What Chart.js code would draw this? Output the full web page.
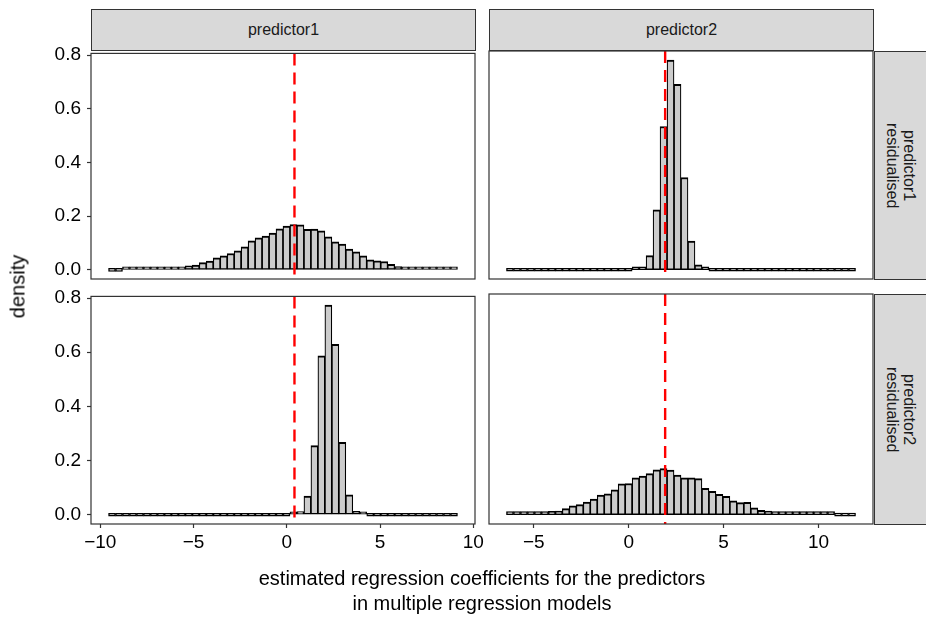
<!DOCTYPE html>
<html>
<head>
<meta charset="utf-8">
<script src="https://cdn.jsdelivr.net/npm/chart.js@4/dist/chart.umd.min.js"></script>
<style>
  body { margin: 0; background: #fff; }
  #wrap { position: relative; width: 926px; height: 621px; background: #fff; overflow: hidden;
          font-family: "Liberation Sans", Arial, sans-serif; color: #1a1a1a; }
  .cv { position: absolute; }
  .strip { position: absolute; box-sizing: border-box; background: #d9d9d9; border: 1px solid #333;
           display: flex; align-items: center; justify-content: center; font-size: 16px; color: #1a1a1a; }
  .strip.side { writing-mode: vertical-rl; text-align: center; line-height: 17px; border-right: none; }
  .lab { position: absolute; font-size: 20px; color: #000; text-align: center; }
</style>
</head>
<body>
<div id="wrap">
  <canvas id="tl" class="cv"></canvas>
  <canvas id="tr" class="cv"></canvas>
  <canvas id="bl" class="cv"></canvas>
  <canvas id="br" class="cv"></canvas>

  <div class="strip" style="left:91px;top:9px;width:385px;height:42px">predictor1</div>
  <div class="strip" style="left:489px;top:9px;width:385px;height:42px">predictor2</div>
  <div class="strip side" style="left:874px;top:51px;width:53px;height:229px">predictor1<br>residualised</div>
  <div class="strip side" style="left:874px;top:294px;width:53px;height:231px">predictor2<br>residualised</div>

  <div class="lab" style="left:-32px;top:275px;width:100px;transform:rotate(-90deg)">density</div>
  <div class="lab" style="left:182px;top:566px;width:600px;line-height:25px">estimated regression coefficients for the predictors<br>in multiple regression models</div>
</div>
<script>
// histogram densities, 50 bins per column
const densP1inP1res = [0.000, 0.000, 0.001, 0.001, 0.001, 0.001, 0.002, 0.003, 0.004, 0.007,
                       0.010, 0.015, 0.018, 0.027, 0.033, 0.045, 0.052, 0.061, 0.071, 0.086,
                       0.108, 0.119, 0.126, 0.137, 0.153, 0.163, 0.169, 0.168, 0.151, 0.152,
                       0.145, 0.123, 0.104, 0.096, 0.077, 0.067, 0.052, 0.037, 0.034, 0.031,
                       0.021, 0.012, 0.010, 0.008, 0.005, 0.004, 0.002, 0.002, 0.001, 0.001]
const densP1inP2res = [0, 0, 0, 0, 0, 0, 0, 0, 0, 0,
                       0, 0, 0, 0, 0, 0, 0, 0, 0, 0,
                       0, 0, 0, 0, 0, 0, 0.004, 0.012, 0.069, 0.255,
                       0.587, 0.774, 0.629, 0.267, 0.074, 0.013, 0.002, 0, 0, 0,
                       0, 0, 0, 0, 0, 0, 0, 0, 0, 0]
const densP2inP1res = [0, 0, 0, 0, 0, 0, 0, 0, 0, 0,
                       0, 0, 0, 0, 0, 0, 0, 0, 0.003, 0.009,
                       0.052, 0.221, 0.528, 0.773, 0.683, 0.340, 0.106, 0.018, 0.003, 0,
                       0, 0, 0, 0, 0, 0, 0, 0, 0, 0,
                       0, 0, 0, 0, 0, 0, 0, 0, 0, 0]
const densP2inP2res = [0.001, 0.001, 0.002, 0.002, 0.003, 0.005, 0.012, 0.013, 0.022, 0.032,
                       0.037, 0.046, 0.057, 0.072, 0.076, 0.091, 0.113, 0.114, 0.135, 0.141,
                       0.150, 0.164, 0.168, 0.163, 0.145, 0.135, 0.135, 0.132, 0.096, 0.085,
                       0.074, 0.067, 0.051, 0.044, 0.045, 0.025, 0.016, 0.013, 0.008, 0.005,
                       0.004, 0.003, 0.002, 0.002, 0.001, 0.001, 0.001, 0, 0, 0]

// bin layout of each column (shared by the two rows)
const p1BinStart = -9.56
const p1BinWidth = 0.3742
const p2BinStart = -6.44
const p2BinWidth = 0.3678

// true coefficients (dashed lines)
const p1True = 0.41
const p2True = 1.92

const yTicks = [0, 0.2, 0.4, 0.6, 0.8]
const p1Ticks = [-10, -5, 0, 5, 10]
const p2Ticks = [-5, 0, 5, 10]

const p1Range = [-10.50, 10.09]
const p2Range = [-7.36, 12.87]
const yRange = [-0.034, 0.806]

const FONT = '"Liberation Sans", Arial, sans-serif'

function binned(dens, start, width) {
    return dens.map((d, i) => ({ x: start + width * (i + 0.5), y: d }))
}

function minusFmt(v) {
    return v < 0 ? '\u2212' + Math.abs(v) : String(v)
}

const panelPlugin = {
    id: 'panel',
    afterDatasetsDraw(chart, args, opts) {
        const ctx = chart.ctx
        const a = chart.chartArea
        const px = chart.scales.x.getPixelForValue(opts.vline)
        ctx.save()
        ctx.beginPath()
        ctx.rect(a.left, a.top, a.right - a.left, a.bottom - a.top)
        ctx.clip()
        ctx.strokeStyle = '#ff0000'
        ctx.lineWidth = 2.4
        ctx.setLineDash([12, 7])
        ctx.beginPath()
        ctx.moveTo(px, a.top)
        ctx.lineTo(px, a.bottom)
        ctx.stroke()
        ctx.restore()

        ctx.save()
        ctx.strokeStyle = '#333333'
        ctx.lineWidth = 1.2
        ctx.strokeRect(a.left, a.top, a.right - a.left, a.bottom - a.top)
        ctx.restore()
    }
}

function makePanel(id, box, dens, bins, xRange, xTicks, vline, showX, showY) {
    const cv = document.getElementById(id)
    cv.width = box.w
    cv.height = box.h
    cv.style.left = box.x + 'px'
    cv.style.top = box.y + 'px'
    cv.style.width = box.w + 'px'
    cv.style.height = box.h + 'px'

    return new Chart(cv, {
        type: 'bar',
        data: {
            datasets: [{
                data: binned(dens, bins.start, bins.width),
                backgroundColor: '#cccccc',
                borderColor: '#000000',
                borderWidth: { top: 2, bottom: 1.5, left: 1.2, right: 1.2 },
                borderSkipped: false,
                barPercentage: 1,
                categoryPercentage: 1,
                minBarLength: 3
            }]
        },
        options: {
            responsive: false,
            animation: false,
            layout: { padding: box.pad },
            plugins: {
                legend: { display: false },
                tooltip: { enabled: false },
                panel: { vline: vline }
            },
            scales: {
                x: {
                    type: 'linear',
                    display: showX,
                    offset: false,
                    min: xRange[0],
                    max: xRange[1],
                    afterBuildTicks: s => { s.ticks = xTicks.map(v => ({ value: v })) },
                    afterFit: s => { if (showX) s.height = 55 },
                    grid: { drawOnChartArea: false, offset: false, tickLength: 4, tickColor: '#333', tickWidth: 1.2 },
                    border: { display: false },
                    ticks: {
                        color: '#000', font: { family: FONT, size: 19 }, padding: 3,
                        maxRotation: 0, autoSkip: false, callback: v => minusFmt(v)
                    }
                },
                y: {
                    display: showY,
                    min: yRange[0],
                    max: yRange[1],
                    afterBuildTicks: s => { s.ticks = yTicks.map(v => ({ value: v })) },
                    afterFit: s => { if (showY) s.width = 91 },
                    grid: { drawOnChartArea: false, tickLength: 4, tickColor: '#333', tickWidth: 1.2 },
                    border: { display: false },
                    ticks: {
                        color: '#000', font: { family: FONT, size: 19 }, padding: 6,
                        callback: v => v.toFixed(1)
                    }
                }
            }
        },
        plugins: [panelPlugin]
    })
}

const p1Bins = { start: p1BinStart, width: p1BinWidth }
const p2Bins = { start: p2BinStart, width: p2BinWidth }

makePanel('tl', { x: 0, y: 36, w: 495, h: 263, pad: { top: 15, bottom: 20, left: 0, right: 20 } },
    densP1inP1res, p1Bins, p1Range, p1Ticks, p1True, false, true)
makePanel('tr', { x: 484, y: 36, w: 394, h: 263, pad: { top: 15, bottom: 20, left: 5, right: 5 } },
    densP2inP1res, p2Bins, p2Range, p2Ticks, p2True, false, false)
makePanel('bl', { x: 0, y: 279, w: 495, h: 300, pad: { top: 15, bottom: 0, left: 0, right: 20 } },
    densP1inP2res, p1Bins, p1Range, p1Ticks, p1True, true, true)
makePanel('br', { x: 474, y: 279, w: 404, h: 300, pad: { top: 15, bottom: 0, left: 15, right: 5 } },
    densP2inP2res, p2Bins, p2Range, p2Ticks, p2True, true, false)
</script>
</body>
</html>
